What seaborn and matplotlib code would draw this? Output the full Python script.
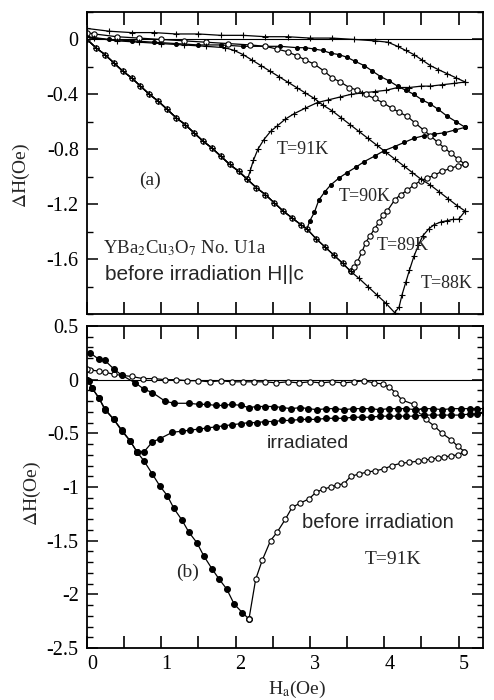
import numpy as np
import pandas as pd
import matplotlib
matplotlib.use("Agg")
import matplotlib.pyplot as plt
import matplotlib.ticker as mticker
import matplotlib.transforms as mtransforms
import seaborn as sns

# ---------------- data: panel (a) ----------------
a_virgin_H = [0.00, 0.12, 0.24, 0.36, 0.48, 0.60, 0.72, 0.84, 0.96, 1.08, 1.20, 1.32,
              1.44, 1.56, 1.68, 1.80, 1.92, 2.04, 2.16, 2.28, 2.40, 2.52, 2.64, 2.76,
              2.88, 2.96, 3.08, 3.20, 3.32, 3.44, 3.55, 3.66, 3.78, 3.90, 4.02, 4.14]
a_virgin_dH = [0.00, -0.06, -0.11, -0.17, -0.23, -0.28, -0.34, -0.40, -0.45, -0.51, -0.57, -0.62,
               -0.68, -0.74, -0.79, -0.85, -0.91, -0.96, -1.02, -1.08, -1.13, -1.19, -1.25, -1.30,
               -1.35, -1.38, -1.45, -1.51, -1.57, -1.63, -1.69, -1.74, -1.80, -1.86, -1.92, -1.99]

t91_rise_H = [2.16, 2.20, 2.24, 2.30, 2.38, 2.47, 2.56, 2.67, 2.79, 2.94, 3.10, 3.25, 3.40,
              3.55, 3.70, 3.87, 4.03, 4.18, 4.34, 4.50, 4.62, 4.78, 4.94, 5.09]
t91_rise_dH = [-1.02, -0.95, -0.88, -0.80, -0.73, -0.67, -0.63, -0.58, -0.54, -0.50, -0.46, -0.44, -0.42,
               -0.40, -0.39, -0.38, -0.37, -0.35, -0.35, -0.34, -0.34, -0.33, -0.32, -0.31]
t91_dec_H = [5.09, 4.97, 4.85, 4.73, 4.62, 4.51, 4.40, 4.29, 4.18, 4.05, 3.87, 3.60, 3.30, 3.00,
             2.70, 2.40, 2.10, 1.80, 1.50, 1.20, 0.90, 0.60, 0.30, 0.00]
t91_dec_dH = [-0.31, -0.28, -0.25, -0.22, -0.19, -0.15, -0.11, -0.08, -0.05, -0.02, -0.01, 0.00, 0.01, 0.01,
              0.02, 0.02, 0.03, 0.03, 0.04, 0.04, 0.05, 0.05, 0.06, 0.08]

t90_rise_H = [2.96, 3.00, 3.06, 3.12, 3.20, 3.28, 3.39, 3.50, 3.62, 3.73, 3.87, 4.00, 4.14, 4.27,
              4.40, 4.54, 4.67, 4.81, 4.95, 5.09]
t90_rise_dH = [-1.38, -1.32, -1.26, -1.17, -1.11, -1.06, -1.01, -0.97, -0.93, -0.89, -0.85, -0.81, -0.78, -0.75,
               -0.72, -0.70, -0.69, -0.68, -0.66, -0.64]
t90_dec_H = [5.09, 4.97, 4.85, 4.73, 4.62, 4.51, 4.40, 4.29, 4.18, 4.06, 3.95, 3.84, 3.73, 3.61, 3.50,
             3.39, 3.28, 3.17, 3.06, 2.94, 2.83, 2.60, 2.40, 2.10, 1.80, 1.50, 1.20, 0.90, 0.60, 0.30, 0.00]
t90_dec_dH = [-0.64, -0.60, -0.56, -0.51, -0.47, -0.44, -0.40, -0.37, -0.34, -0.30, -0.27, -0.23, -0.19, -0.16, -0.13,
              -0.11, -0.10, -0.08, -0.07, -0.06, -0.06, -0.05, -0.05, -0.05, -0.04, -0.04, -0.03, -0.02, -0.01, 0.00, 0.02]

t89_rise_H = [3.55, 3.60, 3.64, 3.70, 3.75, 3.81, 3.87, 3.93, 3.98, 4.04, 4.14, 4.22, 4.31, 4.40,
              4.49, 4.58, 4.67, 4.78, 4.89, 4.99, 5.09]
t89_rise_dH = [-1.69, -1.66, -1.62, -1.55, -1.48, -1.43, -1.38, -1.33, -1.28, -1.25, -1.17, -1.13, -1.10, -1.06,
               -1.03, -1.01, -0.99, -0.96, -0.94, -0.92, -0.91]
t89_dec_H = [5.09, 4.99, 4.90, 4.81, 4.72, 4.62, 4.53, 4.42, 4.31, 4.20, 4.10, 3.98, 3.87, 3.75, 3.64,
             3.53, 3.41, 3.30, 3.19, 3.06, 2.94, 2.83, 2.70, 2.56, 2.40, 2.20, 1.90, 1.60, 1.30, 1.00,
             0.70, 0.40, 0.10, 0.00]
t89_dec_dH = [-0.91, -0.87, -0.83, -0.79, -0.75, -0.70, -0.66, -0.61, -0.56, -0.53, -0.50, -0.46, -0.43, -0.40, -0.37,
              -0.35, -0.31, -0.28, -0.23, -0.18, -0.15, -0.12, -0.09, -0.07, -0.05, -0.04, -0.03, -0.02, -0.01, 0.00,
              0.01, 0.02, 0.04, 0.05]

t88_rise_H = [4.14, 4.20, 4.24, 4.29, 4.34, 4.40, 4.46, 4.52, 4.60, 4.67, 4.76, 4.85, 4.93, 5.00, 5.09]
t88_rise_dH = [-1.99, -1.95, -1.86, -1.77, -1.68, -1.58, -1.50, -1.43, -1.38, -1.35, -1.33, -1.32, -1.31, -1.31, -1.25]
t88_dec_H = [5.09, 4.98, 4.86, 4.74, 4.62, 4.50, 4.38, 4.26, 4.14, 4.02, 3.90, 3.78, 3.66, 3.54, 3.42,
             3.30, 3.18, 3.06, 2.94, 2.82, 2.70, 2.58, 2.46, 2.34, 2.22, 2.10, 1.98, 1.86, 1.60, 1.30,
             1.00, 0.70, 0.40, 0.10, 0.00]
t88_dec_dH = [-1.25, -1.21, -1.16, -1.11, -1.06, -1.02, -0.97, -0.92, -0.87, -0.82, -0.77, -0.72, -0.67, -0.62, -0.57,
              -0.52, -0.48, -0.43, -0.39, -0.35, -0.31, -0.27, -0.23, -0.19, -0.15, -0.11, -0.08, -0.06, -0.05, -0.04,
              -0.03, -0.02, -0.01, 0.01, 0.02]

# ---------------- data: panel (b) ----------------
b_before_virgin_H = [0.00, 0.03, 0.07, 0.16, 0.24, 0.36, 0.47, 0.58, 0.67, 0.77, 0.88, 0.98, 1.08,
                     1.17, 1.28, 1.37, 1.48, 1.57, 1.68, 1.78, 1.88, 1.98, 2.09, 2.18]
b_before_virgin_dH = [0.00, -0.01, -0.08, -0.17, -0.28, -0.37, -0.48, -0.57, -0.67, -0.76, -0.88, -0.99, -1.08,
                      -1.20, -1.31, -1.42, -1.52, -1.64, -1.76, -1.86, -1.95, -2.09, -2.17, -2.23]
b_before_rise_H = [2.18, 2.27, 2.36, 2.47, 2.56, 2.67, 2.76, 2.87, 2.99, 3.08, 3.18, 3.28, 3.37, 3.46,
                   3.55, 3.66, 3.77, 3.88, 4.00, 4.11, 4.22, 4.34, 4.45, 4.54, 4.63, 4.72, 4.81, 4.90,
                   4.99, 5.08]
b_before_rise_dH = [-2.23, -1.86, -1.68, -1.50, -1.42, -1.30, -1.19, -1.15, -1.11, -1.05, -1.02, -1.00, -0.98, -0.97,
                    -0.90, -0.88, -0.86, -0.85, -0.83, -0.80, -0.78, -0.77, -0.76, -0.75, -0.74, -0.73, -0.72, -0.71,
                    -0.70, -0.67]
b_before_dec_H = [5.08, 4.99, 4.90, 4.78, 4.67, 4.56, 4.49, 4.40, 4.24, 4.15, 4.07, 3.98, 3.86, 3.73,
                  3.60, 3.45, 3.30, 3.15, 3.00, 2.85, 2.70, 2.55, 2.40, 2.25, 2.10, 1.95, 1.80, 1.65,
                  1.50, 1.35, 1.20, 1.05, 0.90, 0.75, 0.60, 0.47, 0.36, 0.24, 0.16, 0.04, 0.00]
b_before_dec_dH = [-0.67, -0.62, -0.56, -0.50, -0.43, -0.37, -0.29, -0.23, -0.19, -0.12, -0.07, -0.04, -0.03, -0.01,
                   -0.02, -0.03, -0.02, -0.03, -0.02, -0.03, -0.02, -0.03, -0.02, -0.02, -0.02, -0.02, -0.01, -0.02,
                   -0.01, -0.01, 0.00, 0.00, 0.01, 0.01, 0.03, 0.04, 0.05, 0.07, 0.08, 0.09, 0.10]

b_irr_virgin_H = [0.00, 0.07, 0.16, 0.24, 0.36, 0.47, 0.58, 0.67]
b_irr_virgin_dH = [0.00, -0.08, -0.17, -0.27, -0.37, -0.47, -0.57, -0.67]
b_irr_rise_H = [0.67, 0.77, 0.88, 0.98, 1.15, 1.28, 1.39, 1.51, 1.62, 1.73, 1.84, 1.95, 2.07, 2.18,
                2.29, 2.40, 2.52, 2.63, 2.75, 2.87, 2.98, 3.10, 3.22, 3.34, 3.46, 3.58, 3.70, 3.82,
                3.94, 4.06, 4.18, 4.30, 4.42, 4.54, 4.66, 4.78, 4.90, 5.03, 5.15, 5.25, 5.35]
b_irr_rise_dH = [-0.67, -0.67, -0.58, -0.55, -0.49, -0.48, -0.47, -0.46, -0.45, -0.44, -0.43, -0.42, -0.41, -0.40,
                 -0.40, -0.39, -0.39, -0.38, -0.38, -0.37, -0.37, -0.37, -0.36, -0.36, -0.36, -0.35, -0.35, -0.35,
                 -0.34, -0.34, -0.34, -0.34, -0.34, -0.33, -0.33, -0.33, -0.33, -0.33, -0.32, -0.32, -0.31]
b_irr_dec_H = [5.35, 5.25, 5.15, 5.03, 4.90, 4.78, 4.66, 4.54, 4.42, 4.30, 4.18, 4.06, 3.94, 3.82,
               3.70, 3.58, 3.46, 3.34, 3.22, 3.10, 2.98, 2.87, 2.75, 2.63, 2.52, 2.40, 2.29, 2.18,
               2.07, 1.95, 1.84, 1.73, 1.62, 1.51, 1.37, 1.17, 1.05, 0.88, 0.77, 0.65, 0.47, 0.36,
               0.24, 0.16, 0.04]
b_irr_dec_dH = [-0.27, -0.27, -0.27, -0.27, -0.27, -0.28, -0.27, -0.27, -0.28, -0.27, -0.27, -0.27, -0.28, -0.27,
                -0.27, -0.27, -0.28, -0.27, -0.27, -0.28, -0.27, -0.26, -0.27, -0.26, -0.25, -0.25, -0.25, -0.26,
                -0.24, -0.23, -0.24, -0.24, -0.23, -0.23, -0.22, -0.22, -0.20, -0.12, -0.09, -0.03, 0.04, 0.10,
                0.18, 0.19, 0.25]

# ---------------- style ----------------
sns.set_theme(style="ticks")
plt.rcParams['font.family'] = ['Liberation Serif', 'DejaVu Serif']
plt.rcParams['mathtext.fontset'] = 'stix'
plt.rcParams['axes.unicode_minus'] = False
SANS = ['Liberation Sans', 'DejaVu Sans']

W, Hpx = 494, 700
fig = plt.figure(figsize=(W / 100, Hpx / 100), dpi=100)
fig.patch.set_facecolor('white')

def px_ax(l, t, r, b):
    return fig.add_axes([l / W, 1 - b / Hpx, (r - l) / W, (b - t) / Hpx])

ax1 = px_ax(87, 12, 483, 314)
ax2 = px_ax(87, 326, 483, 648)


def draw(ax, H, dH, marker, ms, mfc='black', mew=0.8, lw=0.9):
    df = pd.DataFrame({'H': H, 'dH': dH})
    sns.lineplot(data=df, x='H', y='dH', ax=ax, sort=False, estimator=None,
                 color='black', lw=lw, marker=marker, markersize=ms,
                 markerfacecolor=mfc, markeredgecolor='black', markeredgewidth=mew,
                 legend=False)


vH = np.array(a_virgin_H)
vD = np.array(a_virgin_dH)
curves_a = [
    (t91_rise_H, t91_rise_dH, t91_dec_H, t91_dec_dH, '+', 4.0, 'black'),
    (t90_rise_H, t90_rise_dH, t90_dec_H, t90_dec_dH, 'o', 2.8, 'black'),
    (t89_rise_H, t89_rise_dH, t89_dec_H, t89_dec_dH, 'o', 3.8, 'white'),
    (t88_rise_H, t88_rise_dH, t88_dec_H, t88_dec_dH, '+', 5.0, 'black'),
]
for rH, rD, dH_, dD, mk, ms, fc in curves_a:
    m = vH <= rH[0] + 1e-9
    draw(ax1, list(vH[m]), list(vD[m]), mk, ms, fc)
    draw(ax1, rH, rD, mk, ms, fc)
    draw(ax1, dH_, dD, mk, ms, fc)

draw(ax2, b_before_virgin_H, b_before_virgin_dH, 'o', 4.2, 'black')
draw(ax2, b_before_rise_H, b_before_rise_dH, 'o', 3.8, 'white')
draw(ax2, b_before_dec_H, b_before_dec_dH, 'o', 3.8, 'white')
draw(ax2, b_irr_virgin_H, b_irr_virgin_dH, 'o', 4.2, 'black')
draw(ax2, b_irr_rise_H, b_irr_rise_dH, 'o', 4.2, 'black')
draw(ax2, b_irr_dec_H, b_irr_dec_dH, 'o', 4.2, 'black')

xmax = (483 - 87) / 74.3
for ax in (ax1, ax2):
    ax.axhline(0, color='black', lw=0.8, zorder=1)
    ax.set_xlim(0, xmax)
    ax.set_xlabel('')
    ax.set_ylabel('')
    for s in ax.spines.values():
        s.set_color('black')
        s.set_linewidth(1.3)
    ax.xaxis.set_major_locator(mticker.MultipleLocator(0.5))
    ax.tick_params(axis='x', which='major', direction='in', length=9, width=1.2,
                   top=True, bottom=True, colors='black', labelsize=14.5, pad=5)
    ax.tick_params(axis='y', which='major', direction='in', length=8, width=1.1,
                   left=True, right=True, colors='black', labelsize=14.5, pad=6)
    ax.tick_params(axis='y', which='minor', direction='in', length=4, width=1.0,
                   left=True, right=True, colors='black')

ax1.set_ylim(-2.0, 0.2)
ax1.yaxis.set_major_locator(mticker.FixedLocator([-1.6, -1.2, -0.8, -0.4, 0.0]))
ax1.yaxis.set_major_formatter(mticker.FixedFormatter(['-1.6', '-1.2', '-0.8', '-0.4', '0']))
ax1.yaxis.set_minor_locator(mticker.MultipleLocator(0.2))
ax1.tick_params(axis='x', labelbottom=False)

ax2.set_ylim(-2.5, 0.5)
ax2.yaxis.set_major_locator(mticker.MultipleLocator(0.5))
ax2.yaxis.set_major_formatter(mticker.FuncFormatter(
    lambda v, p: ('%g' % round(v, 2))))
ax2.yaxis.set_minor_locator(mticker.MultipleLocator(0.1))
ax2.xaxis.set_major_formatter(mticker.FuncFormatter(
    lambda v, p: ('%d' % round(v)) if abs(v - round(v)) < 1e-6 else ''))

# x tick labels in the original sit slightly right of their ticks
offset = mtransforms.ScaledTranslation(5 / 100, 0, fig.dpi_scale_trans)
for lab in ax2.xaxis.get_majorticklabels():
    lab.set_transform(lab.get_transform() + offset)

# axis labels
fig.text(21 / W, 1 - 175 / Hpx, r'$\Delta$H(Oe)', rotation=90, ha='center', va='center', fontsize=14)
fig.text(32 / W, 1 - 493 / Hpx, r'$\Delta$H(Oe)', rotation=90, ha='center', va='center', fontsize=14)
fig.text(297 / W, 1 - 689 / Hpx, r'H$_\mathrm{a}$(Oe)', ha='center', va='center', fontsize=14)


def ftext(x, y, s, ha='center', **kw):
    fig.text(x / W, 1 - y / Hpx, s, ha=ha, va='center', **kw)


# panel (a) annotations
ftext(303, 150, 'T=91K', fontsize=13)
ftext(365, 197, 'T=90K', fontsize=13)
ftext(403, 246, 'T=89K', fontsize=13)
ftext(447, 283, 'T=88K', fontsize=13)
ftext(150, 180, '(a)', fontsize=14)
ftext(103, 248, r'YBa$_2$Cu$_3$O$_7$ No. U1a', ha='left', fontsize=13.5)
ftext(105, 274, 'before irradiation H||c', ha='left', fontsize=15, family=SANS)

# panel (b) annotations
ftext(308, 443, 'irradiated', fontsize=14, family=SANS)
ftext(302, 523, 'before irradiation', ha='left', fontsize=14.5, family=SANS)
ftext(393, 560, 'T=91K', fontsize=14)
ftext(188, 572, '(b)', fontsize=14)

fig.savefig('out.png', dpi=100, facecolor='white')
